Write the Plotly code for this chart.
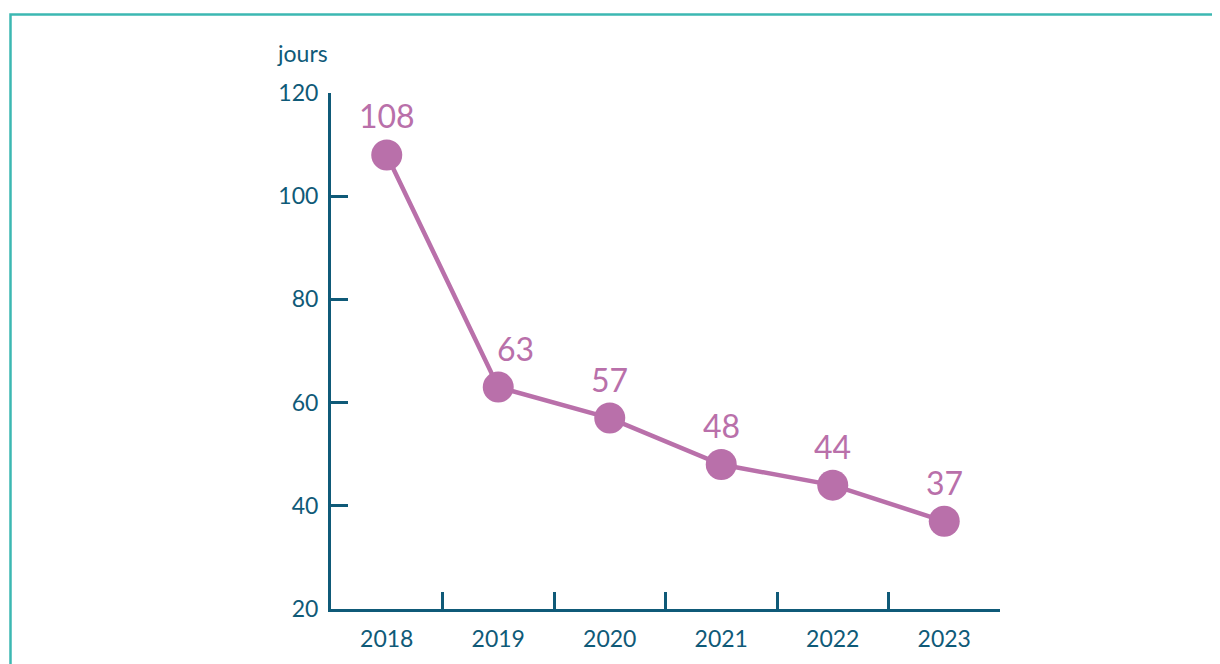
import plotly.graph_objects as go

years = ["2018", "2019", "2020", "2021", "2022", "2023"]
jours = [108, 63, 57, 48, 44, 37]
y_ticks = [20, 40, 60, 80, 100, 120]
label_dx = [0, 17, 0, 0, 0, 0]

# page has an 8px body margin; figure is sized to fit the window
OFF = 8
W, H = 1220 - OFF, 664 - OFF
L, T = 331 - OFF, 93 - OFF
R = W - (1000 - OFF)
B = H - (616 - OFF)
pw, ph = W - L - R, H - T - B

axis_col = "#0f5a78"
line_col = "#b970aa"
font = "Lato"

fig = go.Figure()
fig.add_trace(go.Scatter(
    x=years, y=jours, mode="lines+markers",
    line=dict(color=line_col, width=4.5),
    marker=dict(size=31, color=line_col),
    cliponaxis=False, hoverinfo="skip",
))

# on a category axis, annotation positions are category indices
annotations = [dict(x=i, y=v, xref="x", yref="y", text=str(v), showarrow=False,
                    xshift=dx, yshift=39, xanchor="center", yanchor="middle",
                    font=dict(size=32, color=line_col, family=font))
               for i, (v, dx) in enumerate(zip(jours, label_dx))]
annotations.append(dict(text="jours", xref="paper", yref="paper",
                        x=(302 - OFF - L) / pw, y=(H - B - (52 - OFF)) / ph,
                        xanchor="center", yanchor="middle",
                        showarrow=False, font=dict(size=23, color=axis_col, family=font)))

fig.update_layout(
    width=W, height=H,
    margin=dict(l=L, r=R, t=T, b=B),
    paper_bgcolor="white", plot_bgcolor="white",
    showlegend=False,
    font=dict(family=font, color=axis_col, size=23),
    xaxis=dict(type="category", range=[-0.5, 5.5], showline=True, linecolor=axis_col, linewidth=3,
               ticks="inside", tickson="boundaries", ticklen=17, tickwidth=2.5, tickcolor=axis_col,
               ticklabelstandoff=7,
               showgrid=False, zeroline=False, tickfont=dict(size=23, color=axis_col, family=font)),
    yaxis=dict(range=[20, 120], tickvals=y_ticks, showline=True, linecolor=axis_col, linewidth=3,
               ticks="inside", ticklen=17, tickwidth=2.5, tickcolor=axis_col,
               ticklabelstandoff=5,
               showgrid=False, zeroline=False, tickfont=dict(size=23, color=axis_col, family=font)),
    shapes=[dict(type="rect", xref="paper", yref="paper",
                 x0=(10.5 - OFF - L) / pw, x1=(1240 - L) / pw,
                 y0=(H - B - 700) / ph, y1=(H - B - (13.5 - OFF)) / ph,
                 line=dict(color="#3cb8b2", width=2.5), fillcolor="rgba(0,0,0,0)", layer="below")],
    annotations=annotations,
)

fig.write_html("out.html")
